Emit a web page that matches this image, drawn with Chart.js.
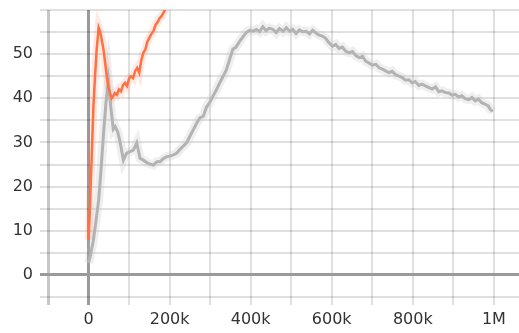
<!DOCTYPE html>
<html>
<head>
<meta charset="utf-8">
<script src="https://cdn.jsdelivr.net/npm/chart.js@4"></script>
<style>
  html,body{margin:0;padding:0;background:#fff;}
  #wrap{width:519px;height:333px;}
</style>
</head>
<body>
<div id="wrap"><canvas id="c"></canvas></div>
<script>
// run A (orange): steps and smoothed reward
const runASteps = [0,3000,6000,9000,12000,16000,20000,25000,29000,33000,37000,41000,45000,49000,53000,57000,61000,65000,70000,75000,80000,85000,90000,95000,100000,105000,110000,115000,120000,125000,130000,135000,140000,145000,150000,155000,160000,165000,170000,175000,180000,185000,190000,195000];
const runAValues = [8,14,22,30,38,45,51,56,55,53,51,48,45,42.5,41.2,40,40.5,41.2,40.8,42,41.6,43,43.5,42.8,44.5,45,44.6,46.2,46.9,45.8,48.5,50.3,51,52.8,53.7,54.6,55.2,56.6,57.2,58.1,58.6,59.4,60.3,61.5];

// run B (gray)
const runBSteps = [0,5000,12000,18000,25000,31000,37000,43000,49000,55000,61000,66000,72000,78000,86000,94000,102000,111000,119000,127000,135000,144000,152000,160000,168000,177000,185000,193000,200000,209000,218000,226000,234000,242000,250000,258000,267000,275000,283000,291000,300000,307000,315000,323000,332000,340000,348000,356000,364000,372000,380000,389000,398000,406000,414000,422000,430000,438000,446000,455000,463000,471000,480000,488000,496000,504000,512000,520000,528000,537000,545000,553000,561000,569000,577000,585000,593000,602000,610000,618000,626000,634000,643000,651000,660000,668000,676000,684000,692000,700000,709000,717000,725000,733000,741000,749000,758000,766000,774000,782000,790000,798000,806000,815000,823000,831000,840000,848000,856000,864000,872000,880000,889000,897000,905000,913000,921000,929000,938000,946000,954000,962000,970000,978000,986000,991000,997000];
const runBValues = [2.7,4.5,7.9,12,17,24,32,39,44,38,33,33.6,32.4,30,26,27.6,27.9,28.3,29.9,26.4,26,25.4,25.1,24.9,25.6,25.7,26.4,26.8,26.9,27.2,27.6,28.5,29.2,29.9,31.4,32.8,34.4,35.6,35.9,38,39.2,40.5,41.8,43.4,45,46.4,48.8,51.1,51.6,52.8,53.8,54.9,55.4,55.2,55.6,55.1,56.2,55.3,55.9,55.6,54.9,55.8,55.2,56,55.2,55.6,54.7,55.5,55.1,55.2,54.6,55.4,54.8,54.3,54.1,53.6,52.6,51.8,52.2,51.3,51.6,50.7,50.3,50.6,49.6,49.2,49.5,48.4,48,47.5,47.7,46.9,46.6,46.2,45.8,46.1,45.3,45,44.7,44.1,44.2,43.5,43.8,42.9,43.2,42.8,42.4,42.1,42.6,41.5,41.7,41.3,41.2,40.7,40.9,40.3,40.6,39.9,39.7,40.2,39.4,39.8,39,38.7,38.3,37.5,37];

const xTickValues = [-100000,0,100000,200000,300000,400000,500000,600000,700000,800000,900000,1000000];

const orange = '#ff7043';
const gray = '#b3b3b3';

function pts(steps, vals){
  return steps.map((s,i)=>({x:s, y:vals[i]}));
}

function fmtStep(v){
  if(v===0) return '0';
  if(v>=1000000) return (v/1000000)+'M';
  return (v/1000)+'k';
}

const font = {family:'"DejaVu Sans"', size:16};

new Chart(document.getElementById('c'), {
  type:'line',
  data:{ datasets:[
    {data:pts(runASteps,runAValues), borderColor:orange, borderWidth:2.5},
    {data:pts(runBSteps,runBValues), borderColor:gray, borderWidth:3},
    // faint raw-value halo behind each run
    {data:pts(runASteps,runAValues), borderColor:'rgba(255,112,67,0.15)', borderWidth:8},
    {data:pts(runBSteps,runBValues), borderColor:'rgba(190,190,190,0.25)', borderWidth:9}
  ]},
  options:{
    responsive:true,
    maintainAspectRatio:false,
    animation:false,
    layout:{padding:{top:10,right:0,left:0,bottom:0}},
    elements:{point:{radius:0}, line:{tension:0}},
    plugins:{legend:{display:false}, tooltip:{enabled:false}},
    scales:{
      x:{
        type:'linear',
        min:-100000, max:1062000,
        afterBuildTicks: s => { s.ticks = xTickValues.map(v=>({value:v})); },
        afterFit: s => { s.height = 36; s.paddingLeft = 0; s.paddingRight = 0; },
        border:{display:false},
        grid:{
          color: c => c.tick.value===0 ? '#9a9a9a' : (c.tick.value===-100000 ? 'rgba(0,0,0,0.22)' : 'rgba(0,0,0,0.12)'),
          lineWidth: c => c.tick.value===0 ? 3 : (c.tick.value===-100000 ? 3 : 2),
          tickLength:8
        },
        ticks:{
          autoSkip:false, maxRotation:0, padding:5, color:'#333', font,
          callback: v => (v>=0 && v%200000===0) ? fmtStep(v) : ''
        }
      },
      y:{
        min:-5, max:60,
        ticks:{
          stepSize:5, autoSkip:false, padding:7, color:'#333', font,
          callback: v => (v>=0 && v<=50 && v%10===0) ? String(v) : ''
        },
        afterFit: s => { s.width = 48; s.paddingTop = 0; s.paddingBottom = 0; },
        border:{display:false},
        grid:{
          color: c => c.tick.value===0 ? '#9a9a9a' : 'rgba(0,0,0,0.12)',
          lineWidth: c => c.tick.value===0 ? 3 : 2,
          tickLength:8
        }
      }
    }
  }
});
</script>
</body>
</html>
